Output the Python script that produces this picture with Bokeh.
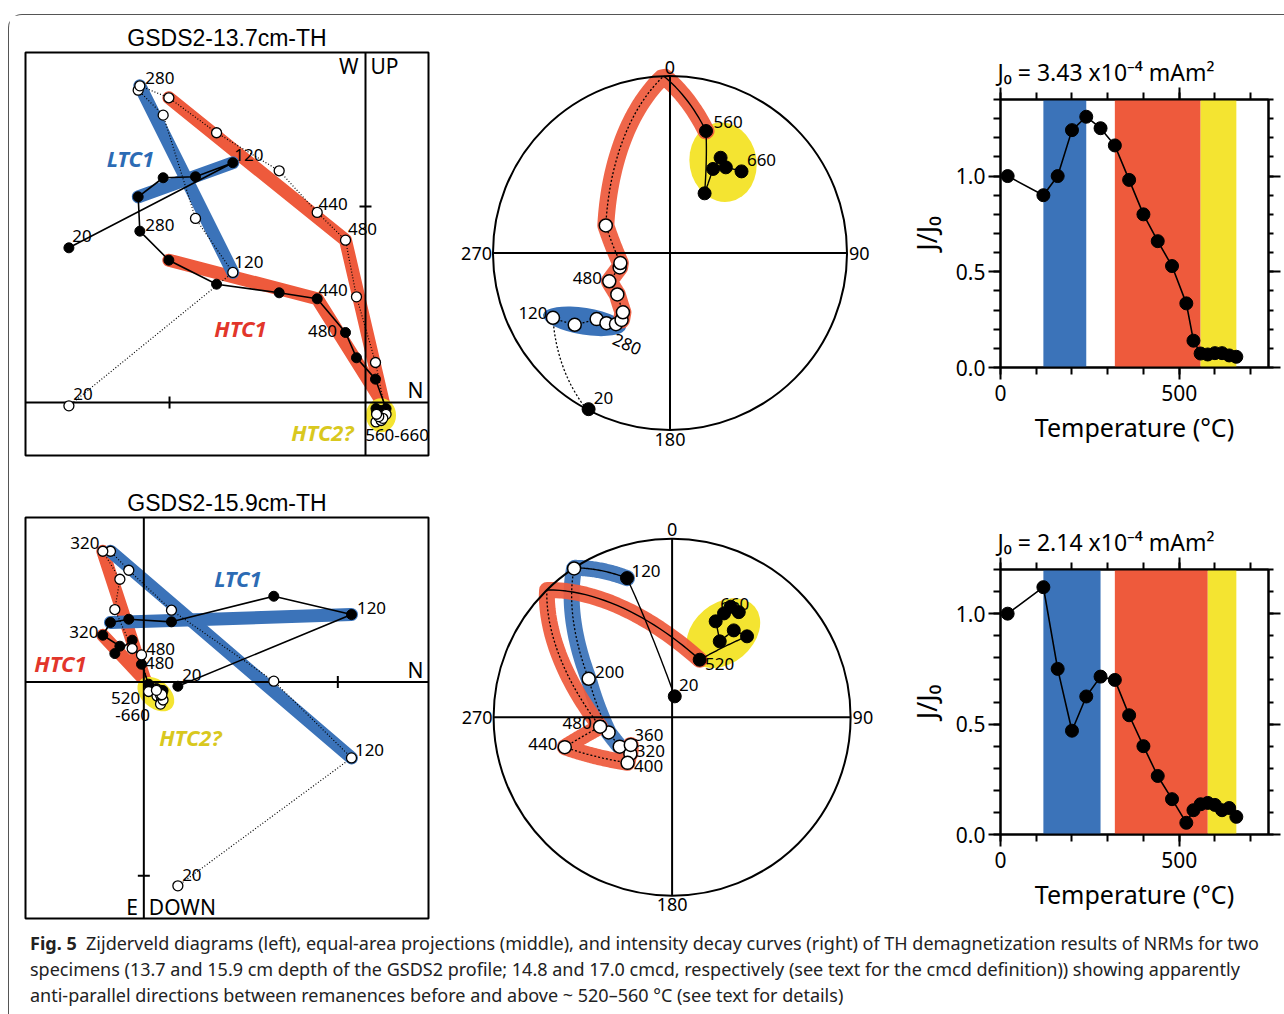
import numpy as np
from bokeh.plotting import figure
from bokeh.layouts import column, row
from bokeh.models import Range1d, LinearAxis, FixedTicker, Div, PrintfTickFormatter
from bokeh.core.properties import value
from bokeh.embed import file_html
from bokeh.resources import INLINE

# ---------------------------------------------------------------- data
temps = [20, 120, 160, 200, 240, 280, 320, 360, 400, 440, 480, 520, 540, 560, 580, 600, 620, 640, 660]

# GSDS2-13.7cm-TH : NRM components (x1e-4 mAm^2) North / East / Down
n_137 = [-3.027, -1.354, -1.735, -2.065, -2.320, -2.303, -2.007, -1.520, -0.881, -0.493, -0.204, -0.092, 0.102,
         0.210, 0.107, 0.160, 0.177, 0.135, 0.113]
e_137 = [-1.578, -2.446, -2.303, -2.293, -2.099, -1.748, -1.452, -1.207, -1.119, -1.058, -0.714, -0.456, -0.238,
         0.062, 0.062, 0.082, 0.094, 0.088, 0.099]
d_137 = [0.034, -1.327, -1.878, -2.932, -3.187, -3.231, -3.109, -2.752, -2.364, -1.939, -1.656, -1.078, -0.408,
         0.121, 0.198, 0.184, 0.162, 0.144, 0.120]
jj0_137 = [1.00, 0.90, 1.00, 1.24, 1.31, 1.25, 1.16, 0.98, 0.80, 0.66, 0.53, 0.335, 0.14, 0.073, 0.068, 0.075,
           0.075, 0.063, 0.056]
j0_137 = "J\u2080 = 3.43 x10\u207b\u2074 mAm\u00b2"
bands_137 = [(120, 240), (320, 560), (560, 660)]

# GSDS2-15.9cm-TH
n_159 = [0.351, 2.141, 1.340, 0.285, -0.155, -0.344, -0.423, -0.247, -0.299, -0.120, -0.024, 0.050, 0.136,
         0.183, 0.172, 0.198, 0.172, 0.186, 0.130]
e_159 = [0.045, -0.694, -0.883, -0.619, -0.646, -0.612, -0.481, -0.368, -0.292, -0.430, -0.182, 0.024, 0.126,
         0.130, 0.108, 0.090, 0.086, 0.118, 0.069]
d_159 = [2.103, 0.784, -0.007, -0.739, -1.151, -1.347, -1.347, -1.058, -0.746, -0.344, -0.278, 0.099, 0.146,
         0.189, 0.229, 0.187, 0.136, 0.132, 0.087]
jj0_159 = [1.00, 1.12, 0.75, 0.47, 0.625, 0.715, 0.70, 0.54, 0.40, 0.265, 0.16, 0.053, 0.11, 0.137, 0.143, 0.134,
           0.11, 0.12, 0.08]
j0_159 = "J\u2080 = 2.14 x10\u207b\u2074 mAm\u00b2"
bands_159 = [(120, 280), (320, 580), (580, 660)]

titles = ["GSDS2-13.7cm-TH", "GSDS2-15.9cm-TH"]
caption = [
    "<b>Fig. 5</b>&nbsp; Zijderveld diagrams (left), equal-area projections (middle), and intensity decay curves (right) of TH demagnetization results of NRMs for two",
    "specimens (13.7 and 15.9 cm depth of the GSDS2 profile; 14.8 and 17.0 cmcd, respectively (see text for the cmcd definition)) showing apparently",
    "anti-parallel directions between remanences before and above ~ 520\u2013560 \u00b0C (see text for details)",
]

# ---------------------------------------------------------------- style
FONT = "Noto Sans"
TFONT = "Liberation Sans"
BLUE, RED, YEL = "#3b73b9", "#ee5a3c", "#f4e431"
TBLUE, TRED, TYEL = "#2c6bb4", "#e2362b", "#d9c81e"


def no_align(p):
    if "frame_align" in p.properties():
        p.frame_align = False


def txt(p, xs, ys, texts, dx, dy, size, color="black", align="center", style="normal", angle=None, font=FONT):
    n = len(texts)
    p.text(x=list(xs), y=list(ys), text=list(texts), x_offset=list(dx), y_offset=list(dy),
           angle=list(angle) if angle is not None else [0.0] * n,
           text_align=align, text_baseline="middle", text_font=value(font),
           text_font_size=value(size), text_font_style=style, text_color=color)


# ---------------------------------------------------------------- Zijderveld
def zij_panel(N, E, D, xr, yr, mbt, mbb, title, bands, blob, ticks, plabels, comps, words):
    N = np.asarray(N, float)
    W = -np.asarray(E, float)
    U = -np.asarray(D, float)
    ix = {t: i for i, t in enumerate(temps)}
    fw = 403
    scale = fw / (xr[1] - xr[0])
    p = figure(width=431, height=455, x_range=Range1d(*xr), y_range=Range1d(*yr),
               x_axis_location=None, y_axis_location=None, toolbar_location=None,
               output_backend="svg", min_border_left=16, min_border_right=12,
               min_border_top=mbt, min_border_bottom=mbb, title=title)
    no_align(p)
    p.grid.visible = False
    p.title.align = "center"
    p.title.text_font = TFONT
    p.title.text_font_size = "23px"
    p.title.text_font_style = "normal"
    p.title.text_color = "black"
    p.title.standoff = 3
    p.outline_line_color = "black"
    p.outline_line_width = 2

    def yv(pr):
        return W if pr == "h" else U

    for pr, steps, col in bands:
        p.line([N[ix[t]] for t in steps], [yv(pr)[ix[t]] for t in steps], line_color=col,
               line_width=13, line_cap="round", line_join="round")
    (t0, t1), bw, bh, ang = blob
    sel = [i for i, t in enumerate(temps) if t0 <= t <= t1]
    xs = N[sel]
    ys = np.concatenate([W[sel], U[sel]])
    p.ellipse(x=[(xs.min() + xs.max()) / 2], y=[(ys.min() + ys.max()) / 2], width=bw / scale,
              height=bh / scale, angle=np.radians(ang), fill_color=YEL, line_color=None)
    # axes + scale ticks
    p.segment(x0=[xr[0], 0], y0=[0, yr[0]], x1=[xr[1], 0], y1=[0, yr[1]], line_color="black", line_width=2)
    tl = 6 / scale
    for tx, ty in ticks:
        if ty == 0:
            p.segment(x0=[tx], y0=[-tl], x1=[tx], y1=[tl], line_color="black", line_width=2)
        else:
            p.segment(x0=[-tl], y0=[ty], x1=[tl], y1=[ty], line_color="black", line_width=2)
    # data
    p.line(N, U, line_color="black", line_width=1.2, line_dash="1 2")
    p.line(N, W, line_color="black", line_width=1.6)
    p.scatter(N, W, size=10, fill_color="black", line_color="black")
    p.scatter(N, U, size=10, fill_color="white", line_color="black", line_width=1.3)
    # labels
    txt(p, [N[ix[t]] for pr, t, s, dx, dy in plabels], [yv(pr)[ix[t]] for pr, t, s, dx, dy in plabels],
        [s for *_, s, dx, dy in plabels], [dx for *_, dx, dy in plabels], [dy for *_, dy in plabels], "17px")
    for x, y, s, col in comps:
        txt(p, [x], [y], [s], [0], [0], "22px", color=col, style="bold italic")
    for x, y, s, al, dx, dy in words:
        txt(p, [x], [y], [s], [dx], [dy], "21px", align=al)
    return p


# ---------------------------------------------------------------- equal-area
def unit(N, E, D):
    v = np.column_stack([N, E, D]).astype(float)
    return v / np.linalg.norm(v, axis=1)[:, None]


def proj(v):
    v = np.atleast_2d(v)
    n, e, d = v[:, 0], v[:, 1], v[:, 2]
    h = np.hypot(n, e)
    h = np.where(h == 0, 1e-12, h)
    r = np.sqrt(np.clip(1 - np.abs(d), 0, 1))
    return r * e / h, r * n / h


def slerp(a, b, num=48):
    om = np.arccos(np.clip(np.dot(a, b), -1, 1))
    if om < 1e-6:
        return np.vstack([a, b])
    t = np.linspace(0, 1, num)
    s = np.sin(om)
    return (np.sin((1 - t) * om) / s)[:, None] * a + (np.sin(t * om) / s)[:, None] * b


def runs(pts):
    out = []
    cur = [pts[0]]
    low = pts[0][2] >= 0
    for q in pts[1:]:
        ql = q[2] >= 0
        if ql != low:
            pr = cur[-1]
            f = pr[2] / (pr[2] - q[2])
            c = pr + f * (q - pr)
            c[2] = 0
            c = c / np.linalg.norm(c)
            cur.append(c)
            out.append((low, np.array(cur)))
            cur = [c, q]
            low = ql
        else:
            cur.append(q)
    out.append((low, np.array(cur)))
    return out


def stereo_panel(N, E, D, R, cx, cy, ellipses, paths, plabels, rot_labels, band_w):
    v = unit(N, E, D)
    X, Y = proj(v)
    ix = {t: i for i, t in enumerate(temps)}
    W_, H_ = 460, 455
    p = figure(width=W_, height=H_, x_range=Range1d(-cx / R, (W_ - cx) / R),
               y_range=Range1d((cy - H_) / R, cy / R), x_axis_location=None, y_axis_location=None,
               toolbar_location=None, output_backend="svg", min_border=0)
    no_align(p)
    p.grid.visible = False
    p.outline_line_color = None
    for (t0, t1), col, w, h, ang in ellipses:
        sel = [i for i, t in enumerate(temps) if t0 <= t <= t1]
        p.ellipse(x=[(X[sel].min() + X[sel].max()) / 2], y=[(Y[sel].min() + Y[sel].max()) / 2],
                  width=w / R, height=h / R, angle=np.radians(ang), fill_color=col, line_color=None)
    for (t0, t1), col in paths:
        sel = [i for i, t in enumerate(temps) if t0 <= t <= t1]
        pts = np.vstack([slerp(v[a], v[b]) for a, b in zip(sel[:-1], sel[1:])])
        bx, by = proj(pts)
        p.line(bx, by, line_color=col, line_width=band_w, line_cap="round", line_join="round", alpha=0.93)
    # net
    p.circle(x=[0], y=[0], radius=1, fill_color=None, line_color="black", line_width=2)
    p.segment(x0=[-1, 0], y0=[0, -1], x1=[1, 0], y1=[0, 1], line_color="black", line_width=2)
    # great-circle connections
    sx, sy, ux, uy = [], [], [], []
    for a in range(len(temps) - 1):
        for low, seg in runs(slerp(v[a], v[a + 1])):
            gx, gy = proj(seg)
            if low:
                sx.append(list(gx)); sy.append(list(gy))
            else:
                ux.append(list(gx)); uy.append(list(gy))
    p.multi_line(ux, uy, line_color="black", line_width=1.3, line_dash="2 2")
    p.multi_line(sx, sy, line_color="black", line_width=1.4)
    low = v[:, 2] >= 0
    txt(p, [X[ix[t]] for t, s, dx, dy in plabels], [Y[ix[t]] for t, s, dx, dy in plabels],
        [s for t, s, dx, dy in plabels], [dx for t, s, dx, dy in plabels], [dy for t, s, dx, dy in plabels], "17px")
    p.scatter(X[low], Y[low], size=13, fill_color="black", line_color="black")
    p.scatter(X[~low], Y[~low], size=13, fill_color="white", line_color="black", line_width=1.5)
    for t, s, dx, dy, ang in rot_labels:
        txt(p, [X[ix[t]]], [Y[ix[t]]], [s], [dx], [dy], "17px", angle=[ang])
    txt(p, [0], [1], ["0"], [0], [-9], "18px")
    txt(p, [1], [0], ["90"], [2], [0], "18px", align="left")
    txt(p, [0], [-1], ["180"], [0], [9], "18px")
    txt(p, [-1], [0], ["270"], [-1], [0], "18px", align="right")
    return p


# ---------------------------------------------------------------- decay
def decay_panel(J, bands, ymax, j0txt, mbl, fw, mbt, fh, mbb):
    p = figure(width=mbl + fw + 16, height=mbt + fh + mbb, x_range=Range1d(0, 750), y_range=Range1d(0, ymax),
               toolbar_location=None, output_backend="svg", min_border_left=mbl, min_border_right=16,
               min_border_top=mbt, min_border_bottom=mbb, title=j0txt)
    no_align(p)
    p.title.align = "left"
    p.title.text_font = FONT
    p.title.text_font_size = "23px"
    p.title.text_font_style = "normal"
    p.title.text_color = "black"
    p.title.standoff = 0
    p.title.offset = -3
    p.grid.visible = False
    p.outline_line_color = "black"
    p.outline_line_width = 2
    p.quad(left=[b[0] for b in bands], right=[b[1] for b in bands], bottom=0, top=ymax,
           fill_color=[BLUE, RED, YEL], line_color=None)
    p.line(temps, J, line_color="black", line_width=1.6)
    p.scatter(temps, J, size=13, fill_color="black", line_color="black")
    p.add_layout(LinearAxis(), "above")
    p.add_layout(LinearAxis(), "right")
    xt = FixedTicker(ticks=[0, 500], minor_ticks=list(range(0, 701, 100)))
    yt = FixedTicker(ticks=[0, 0.5, 1.0], minor_ticks=[round(0.1 * i, 1) for i in range(int(round(ymax * 10)) + 1)])
    for ax in p.xaxis:
        ax.ticker = xt
    for ax in p.yaxis:
        ax.ticker = yt
        ax.formatter = PrintfTickFormatter(format="%.1f")
    for ax in p.axis:
        ax.axis_line_width = 2
        ax.major_tick_line_width = 2
        ax.minor_tick_line_width = 2
        ax.major_tick_in = 0
        ax.minor_tick_in = 0
        ax.major_tick_out = 12
        ax.minor_tick_out = 7
        ax.major_label_text_font = FONT
        ax.major_label_text_font_size = "21px"
        ax.major_label_text_color = "black"
    for ax in ([a for a in p.above if isinstance(a, LinearAxis)][0], p.right[0]):
        ax.major_label_text_alpha = 0
        ax.major_label_text_font_size = "1px"
        ax.major_label_standoff = 0
    p.right[0].minor_tick_out = 5
    p.xaxis[0].major_label_standoff = 7
    p.yaxis[0].major_label_standoff = 3
    bx = p.below[0]
    bx.axis_label = "Temperature (\u00b0C)"
    bx.axis_label_text_font = FONT
    bx.axis_label_text_font_size = "25px"
    bx.axis_label_text_font_style = "normal"
    bx.axis_label_text_color = "black"
    bx.axis_label_standoff = 6
    ly = p.left[0]
    ly.axis_label = "J/J\u2080"
    ly.axis_label_text_font = FONT
    ly.axis_label_text_font_size = "27px"
    ly.axis_label_text_font_style = "normal"
    ly.axis_label_text_color = "black"
    ly.axis_label_standoff = 8
    return p


# ---------------------------------------------------------------- panels
zA = zij_panel(n_137, e_137, d_137, (-3.47, 0.643), (-0.541, 3.571), 37, 15, titles[0],
               bands=[("h", [320, 440, 560], RED), ("v", [320, 480, 560], RED),
                      ("v", [120, 280], BLUE), ("h", [120, 240], BLUE)],
               blob=((560, 660), 30, 34, 0), ticks=[(-2, 0), (0, 2)],
               plabels=[("v", 280, "280", 20, -8), ("h", 120, "120", 16, -8), ("v", 440, "440", 16, -8),
                        ("v", 480, "480", 17, -11), ("h", 20, "20", 13, -12), ("h", 280, "280", 20, -6),
                        ("v", 120, "120", 16, -10), ("h", 440, "440", 16, -9), ("h", 480, "480", -23, -2),
                        ("v", 20, "20", 14, -12), ("h", 560, "560-660", 11, 26)],
               comps=[(-2.40, 2.49, "LTC1", TBLUE), (-1.276, 0.755, "HTC1", TRED), (-0.44, -0.306, "HTC2?", TYEL)],
               words=[(0, 3.571, "W", "right", -7, 13), (0, 3.571, "UP", "left", 5, 13),
                      (0.643, 0, "N", "right", -5, -12)])

zB = zij_panel(n_159, e_159, d_159, (-1.22, 2.935), (-2.44, 1.695), 47, 7, titles[1],
               bands=[("v", [320, 520], RED), ("h", [320, 520], RED),
                      ("v", [120, 280], BLUE), ("h", [120, 280], BLUE)],
               blob=((520, 660), 42, 28, -40), ticks=[(2, 0), (0, -2)],
               plabels=[("v", 320, "320", -18, -8), ("h", 120, "120", 20, -7), ("h", 320, "320", -19, -3),
                        ("v", 480, "480", 19, -6), ("h", 480, "480", 18, -1), ("h", 20, "20", 14, -11),
                        ("v", 120, "120", 18, -8), ("v", 20, "20", 14, -11), ("h", 520, "520", -23, 14),
                        ("h", 520, "-660", -16, 31)],
               comps=[(0.97, 1.076, "LTC1", TBLUE), (-0.859, 0.196, "HTC1", TRED), (0.48, -0.567, "HTC2?", TYEL)],
               words=[(0, -2.44, "E", "right", -6, -12), (0, -2.44, "DOWN", "left", 5, -12),
                      (2.935, 0, "N", "right", -5, -12)])

sA = stereo_panel(n_137, e_137, d_137, 177, 229.5, 237.5,
                  ellipses=[((120, 280), BLUE, 84, 27, -9), ((560, 660), YEL, 67, 80, 10)],
                  paths=[((320, 560), RED)],
                  plabels=[(560, "560", 22, -9), (660, "660", 20, -11), (440, "480", -22, -3),
                           (120, "120", -20, -5), (20, "20", 15, -11)],
                  rot_labels=[(280, "280", 11, 20, -0.42)], band_w=17)

sB = stereo_panel(n_159, e_159, d_159, 178.5, 231.6, 246.7,
                  ellipses=[((520, 660), YEL, 82, 60, 40)],
                  paths=[((120, 280), BLUE), ((320, 520), RED)],
                  plabels=[(660, "660", 4, -3), (120, "120", 19, -7), (520, "520", 20, 4), (200, "200", 21, -7),
                           (20, "20", 14, -11), (480, "480", -23, -4), (440, "440", -22, -3),
                           (360, "360", 18, -10), (320, "320", 20, -3), (400, "400", 21, 3)],
                  rot_labels=[], band_w=16)

dA = decay_panel(jj0_137, bands_137, 1.4, j0_137, 100, 268, 84, 268, 103)
dB = decay_panel(jj0_159, bands_159, 1.2, j0_159, 100, 268, 99, 265, 91)

cap_html = ('<div style="font-family:\'Noto Sans\'; font-size:18px; line-height:26px; color:#222; '
            'white-space:nowrap; padding-left:16px; padding-top:0px;">' + "<br>".join(caption) + "</div>")
cap = Div(text=cap_html, width=1275, height=89)

root = column(row(zA, sA, dA), row(zB, sB, dB), cap,
              styles={"border-top": "1px solid #555", "border-left": "1px solid #555",
                      "border-top-left-radius": "14px", "margin-left": "8px", "margin-top": "14px"})

open("out.html", "w").write(file_html(root, INLINE, "Fig. 5"))
